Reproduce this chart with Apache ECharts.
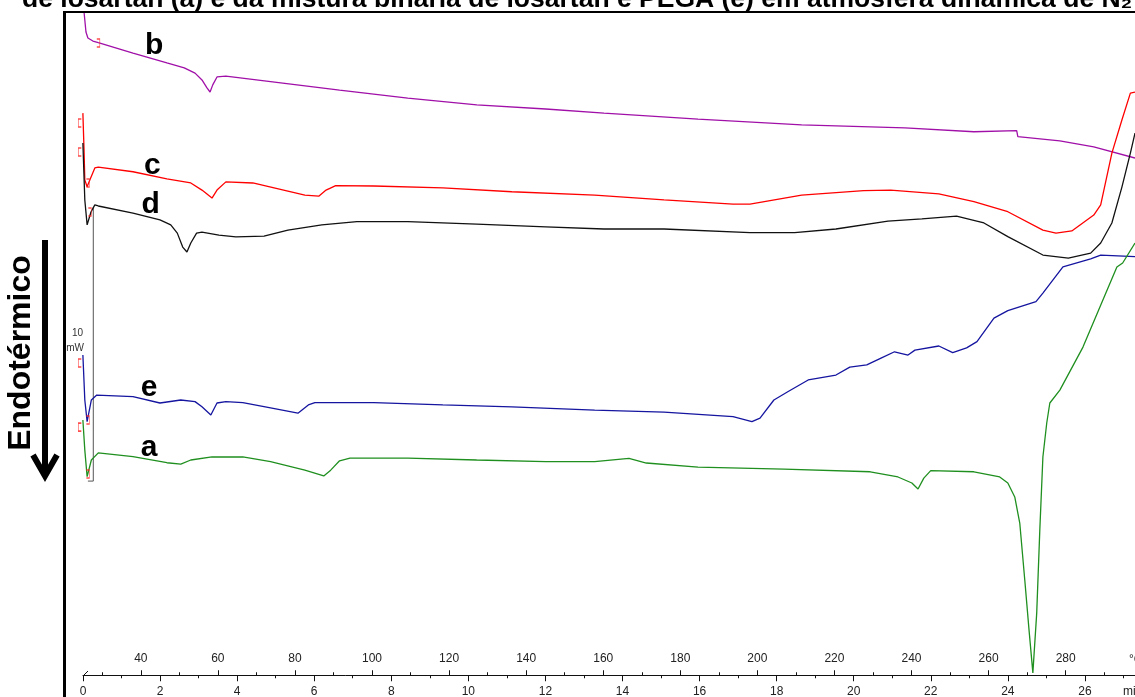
<!DOCTYPE html>
<html>
<head>
<meta charset="utf-8">
<script src="https://cdn.jsdelivr.net/npm/echarts@6/dist/echarts.min.js"></script>
<style>
  html, body { margin: 0; padding: 0; background: #fff; }
  #chart { width: 1135px; height: 697px; }
</style>
</head>
<body>
<div id="chart"></div>
<script>
// DSC curves: time (min) against heat flow (mW); heating at 10 °C/min starting at 25 °C.

// a: losartan (green)
const curveA = [
  [0.00,10.11],[0.05,9.01],[0.11,8.04],[0.22,8.65],[0.40,8.91],[1.30,8.77],[2.18,8.55],
  [2.54,8.50],[2.80,8.65],[3.35,8.76],[4.15,8.76],[4.87,8.59],[5.76,8.28],[6.25,8.07],
  [6.43,8.28],[6.66,8.62],[6.93,8.72],[8.43,8.72],[10.22,8.65],[12.01,8.59],[13.28,8.59],
  [14.17,8.71],[14.62,8.54],[15.96,8.39],[18.19,8.32],[20.43,8.22],[21.15,8.03],[21.51,7.81],
  [21.67,7.59],[21.82,7.99],[22.00,8.26],[23.12,8.22],[23.79,8.03],[24.00,7.81],[24.18,7.30],
  [24.31,6.35],[24.44,4.27],[24.55,2.45],[24.65,0.88],[24.75,3.07],[24.83,6.09],[24.91,8.76],
  [25.01,10.00],[25.09,10.73],[25.35,11.20],[25.95,12.77],[26.39,14.23],[26.83,15.69],
  [26.98,15.84],[27.30,16.57]
];

// b (purple)
const curveB = [
  [0.03,25.00],[0.08,24.27],[0.13,24.05],[0.26,23.94],[0.40,23.88],[1.30,23.50],[2.18,23.14],
  [2.63,22.96],[2.91,22.77],[3.09,22.52],[3.22,22.23],[3.30,22.08],[3.37,22.34],[3.48,22.63],
  [3.71,22.66],[4.87,22.46],[6.66,22.15],[8.43,21.86],[10.22,21.61],[12.01,21.46],[13.52,21.31],
  [15.96,21.09],[18.65,20.88],[21.33,20.77],[23.12,20.63],[24.23,20.67],[24.26,20.45],
  [25.35,20.30],[26.23,20.08],[27.30,19.67]
];

// c (red)
const curveC = [
  [0.00,21.31],[0.03,19.96],[0.05,18.87],[0.11,18.62],[0.18,18.87],[0.31,19.31],[0.40,19.34],
  [1.30,19.17],[2.18,18.91],[2.80,18.76],[3.09,18.50],[3.35,18.21],[3.48,18.50],[3.71,18.80],
  [4.41,18.76],[5.76,18.32],[6.12,18.28],[6.31,18.50],[6.56,18.66],[7.55,18.65],[9.34,18.58],
  [11.13,18.44],[13.28,18.32],[15.08,18.14],[16.87,17.99],[17.31,17.99],[18.65,18.32],
  [20.26,18.48],[20.96,18.50],[22.21,18.36],[23.12,18.08],[24.00,17.71],[24.91,17.04],
  [25.25,16.93],[25.66,17.01],[26.23,17.59],[26.41,17.96],[26.70,19.85],[26.96,21.06],
  [27.18,22.04],[27.30,22.08]
];

// d (black)
const curveD = [
  [0.00,20.22],[0.05,18.14],[0.11,17.23],[0.21,17.70],[0.31,17.96],[0.40,17.92],[1.30,17.66],
  [2.00,17.41],[2.28,17.23],[2.45,16.93],[2.59,16.42],[2.70,16.24],[2.80,16.57],[2.95,16.93],
  [3.09,16.97],[3.53,16.86],[3.97,16.79],[4.70,16.82],[5.32,17.04],[6.20,17.23],[7.11,17.35],
  [8.43,17.35],[10.22,17.26],[12.01,17.16],[13.52,17.08],[15.08,17.08],[17.31,16.95],
  [18.47,16.95],[19.54,17.08],[20.89,17.37],[21.77,17.45],[22.67,17.55],[23.38,17.30],
  [24.00,16.80],[24.91,16.13],[25.57,16.02],[26.15,16.20],[26.41,16.57],[26.70,17.30],
  [26.96,18.61],[27.18,19.85],[27.30,20.58]
];

// e: losartan + PEGA (blue)
const curveE = [
  [0.00,12.48],[0.05,10.84],[0.11,10.05],[0.22,10.84],[0.36,11.02],[1.30,10.96],[2.00,10.73],
  [2.54,10.84],[2.91,10.78],[3.09,10.59],[3.32,10.29],[3.48,10.73],[3.71,10.78],[4.15,10.74],
  [4.87,10.55],[5.58,10.36],[5.85,10.66],[6.02,10.74],[7.55,10.74],[9.34,10.66],[11.13,10.59],
  [13.28,10.47],[15.08,10.40],[16.87,10.23],[17.36,10.05],[17.57,10.18],[17.93,10.84],
  [18.29,11.14],[18.82,11.57],[19.54,11.75],[19.90,12.04],[20.34,12.12],[20.71,12.37],
  [21.06,12.60],[21.41,12.48],[21.59,12.66],[22.21,12.81],[22.57,12.57],[22.93,12.74],
  [23.20,12.97],[23.64,13.83],[24.00,14.10],[24.73,14.43],[24.91,14.74],[25.43,15.70],
  [26.15,15.99],[26.41,16.13],[27.30,16.07]
];

// 10 mW scale bar
const scaleBar = [[0.27,17.88],[0.27,7.88],[0.13,7.88]];

// integration limit markers
const markersOpen = [[-0.08,20.95],[-0.08,19.89],[-0.08,12.19],[-0.08,9.85]];
const markersClose = [[0.40,23.87],[0.13,18.76],[0.18,17.70],[0.13,10.11],[0.13,8.14]];

// axis ticks and labels
const timeMajor = [0,2,4,6,8,10,12,14,16,18,20,22,24,26];
const timeMinor = [1,3,5,7,9,11,13,15,17,19,21,23,25,27];
const tempMajor = [40,60,80,100,120,140,160,180,200,220,240,260,280];
const tempMinor = [30,50,70,90,110,130,150,170,190,210,230,250,270,290];

// curve letters placed at (time, heat flow)
const curveLetters = [
  { text: 'b', t: 1.85, v: 23.77 },
  { text: 'c', t: 1.80, v: 19.40 },
  { text: 'd', t: 1.76, v: 17.96 },
  { text: 'e', t: 1.72, v: 11.30 },
  { text: 'a', t: 1.72, v: 9.10 }
];

const FONT = '"Liberation Sans", Arial, sans-serif';
const chart = echarts.init(document.getElementById('chart'), null, { renderer: 'canvas' });

function lineSeries(name, data, color) {
  return {
    name: name, type: 'line', data: data, xAxisIndex: 0, yAxisIndex: 0,
    symbol: 'none', smooth: false, animation: false,
    lineStyle: { color: color, width: 1.3 }, z: 3
  };
}

const tickAxis = (opts) => Object.assign({
  type: 'value', gridIndex: 1, position: 'bottom',
  splitLine: { show: false }, axisLine: { show: false },
  axisLabel: { show: false }, axisTick: { show: false }
}, opts);

const option = {
  backgroundColor: '#fff',
  animation: false,
  grid: [
    { left: 64, right: 0, top: 12, bottom: 0 },
    { left: 83, right: 0, top: 675, bottom: 21 }
  ],
  xAxis: [
    { type: 'value', gridIndex: 0, min: -0.49, max: 27.3, show: false },
    // time axis (min)
    tickAxis({
      min: 0, max: 27.3,
      axisLine: { show: true, lineStyle: { color: '#111', width: 1 } },
      axisTick: { show: true, customValues: timeMajor, length: 6, lineStyle: { color: '#111' } },
      axisLabel: { show: true, customValues: timeMajor, margin: 10, color: '#222',
                   fontFamily: FONT, fontSize: 12 }
    }),
    tickAxis({
      min: 0, max: 27.3,
      axisTick: { show: true, customValues: timeMinor, length: 3, lineStyle: { color: '#111' } }
    }),
    // temperature axis (°C)
    tickAxis({
      min: 25, max: 298,
      axisTick: { show: true, inside: true, customValues: tempMajor, length: 5, lineStyle: { color: '#111' } },
      axisLabel: { show: true, inside: true, customValues: tempMajor, margin: 11, color: '#222',
                   fontFamily: FONT, fontSize: 12 }
    }),
    tickAxis({
      min: 25, max: 298,
      axisTick: { show: true, inside: true, customValues: tempMinor, length: 3, lineStyle: { color: '#111' } }
    })
  ],
  yAxis: [
    { type: 'value', gridIndex: 0, min: 0, max: 25, show: false },
    { type: 'value', gridIndex: 1, min: 0, max: 1, show: false }
  ],
  series: [
    lineSeries('b', curveB, '#a010a8'),
    lineSeries('c', curveC, '#ff0000'),
    lineSeries('d', curveD, '#111111'),
    lineSeries('e', curveE, '#1515a0'),
    lineSeries('a', curveA, '#1f8f1f'),
    {
      name: '10 mW', type: 'line', data: scaleBar, symbol: 'none', animation: false,
      lineStyle: { color: '#555', width: 1 }, z: 2
    },
    {
      type: 'scatter', data: markersOpen, symbol: 'path://M3,0 L0,0 L0,10 L3,10',
      symbolSize: [3, 8], animation: false,
      itemStyle: { color: 'none', borderColor: '#ff2020', borderWidth: 1 }, z: 4
    },
    {
      type: 'scatter', data: markersClose, symbol: 'path://M0,0 L3,0 L3,10 L0,10',
      symbolSize: [3, 8], animation: false,
      itemStyle: { color: 'none', borderColor: '#ff2020', borderWidth: 1 }, z: 4
    }
  ]
};

chart.setOption(option);

// annotations placed through the chart's own coordinate conversion
function place() {
  const g = [];
  // frame: heavy left edge and top edge
  g.push({ type: 'line', shape: { x1: 64.5, y1: 11, x2: 64.5, y2: 697 }, style: { stroke: '#000', lineWidth: 3 }, z: 10 });
  g.push({ type: 'line', shape: { x1: 63, y1: 12, x2: 1135, y2: 12 }, style: { stroke: '#000', lineWidth: 2 }, z: 10 });
  // title line (partly above the page edge)
  g.push({ type: 'text', x: 22, y: -0.5, z: 10,
    style: { text: 'de losartan (a) e da mistura binária de losartan e PEGA (e) em atmosfera dinâmica de N\u2082',
             font: 'bold 26.5px ' + FONT, fill: '#000', textAlign: 'left', textVerticalAlign: 'middle',
             align: 'left', verticalAlign: 'middle' } });
  // curve letters
  curveLetters.forEach(function (c) {
    const p = chart.convertToPixel({ gridIndex: 0 }, [c.t, c.v]);
    g.push({ type: 'text', x: p[0], y: p[1], z: 10,
      style: { text: c.text, font: 'bold 30px ' + FONT, fill: '#000',
               textAlign: 'center', textVerticalAlign: 'middle', align: 'center', verticalAlign: 'middle' } });
  });
  // scale label
  g.push({ type: 'text', x: 83, y: 333, z: 10,
    style: { text: '10', font: '10px ' + FONT, fill: '#333', textAlign: 'right', textVerticalAlign: 'middle', align: 'right', verticalAlign: 'middle' } });
  g.push({ type: 'text', x: 84, y: 348, z: 10,
    style: { text: 'mW', font: '10px ' + FONT, fill: '#333', textAlign: 'right', textVerticalAlign: 'middle', align: 'right', verticalAlign: 'middle' } });
  // endothermic direction
  g.push({ type: 'text', x: 21, y: 353, rotation: Math.PI / 2, z: 10,
    style: { text: 'Endotérmico', font: 'bold 32px ' + FONT, fill: '#000',
             textAlign: 'center', textVerticalAlign: 'middle', align: 'center', verticalAlign: 'middle' } });
  g.push({ type: 'line', shape: { x1: 45, y1: 240, x2: 45, y2: 474 }, style: { stroke: '#000', lineWidth: 6 }, z: 10 });
  g.push({ type: 'polyline', shape: { points: [[33, 455], [45, 476], [57, 455]] },
    style: { stroke: '#000', lineWidth: 6, fill: 'none', lineJoin: 'miter' }, z: 10 });
  // axis start stroke and unit labels
  g.push({ type: 'line', shape: { x1: 83, y1: 676, x2: 88, y2: 671 }, style: { stroke: '#111', lineWidth: 1 }, z: 10 });
  g.push({ type: 'text', x: 1129, y: 660, z: 10,
    style: { text: '°C', font: '12px ' + FONT, fill: '#222', textAlign: 'left', textVerticalAlign: 'middle', align: 'left', verticalAlign: 'middle' } });
  g.push({ type: 'text', x: 1123, y: 692, z: 10,
    style: { text: 'min', font: '12px ' + FONT, fill: '#222', textAlign: 'left', textVerticalAlign: 'middle', align: 'left', verticalAlign: 'middle' } });
  chart.setOption({ graphic: { elements: g } });
}
place();
</script>
</body>
</html>
